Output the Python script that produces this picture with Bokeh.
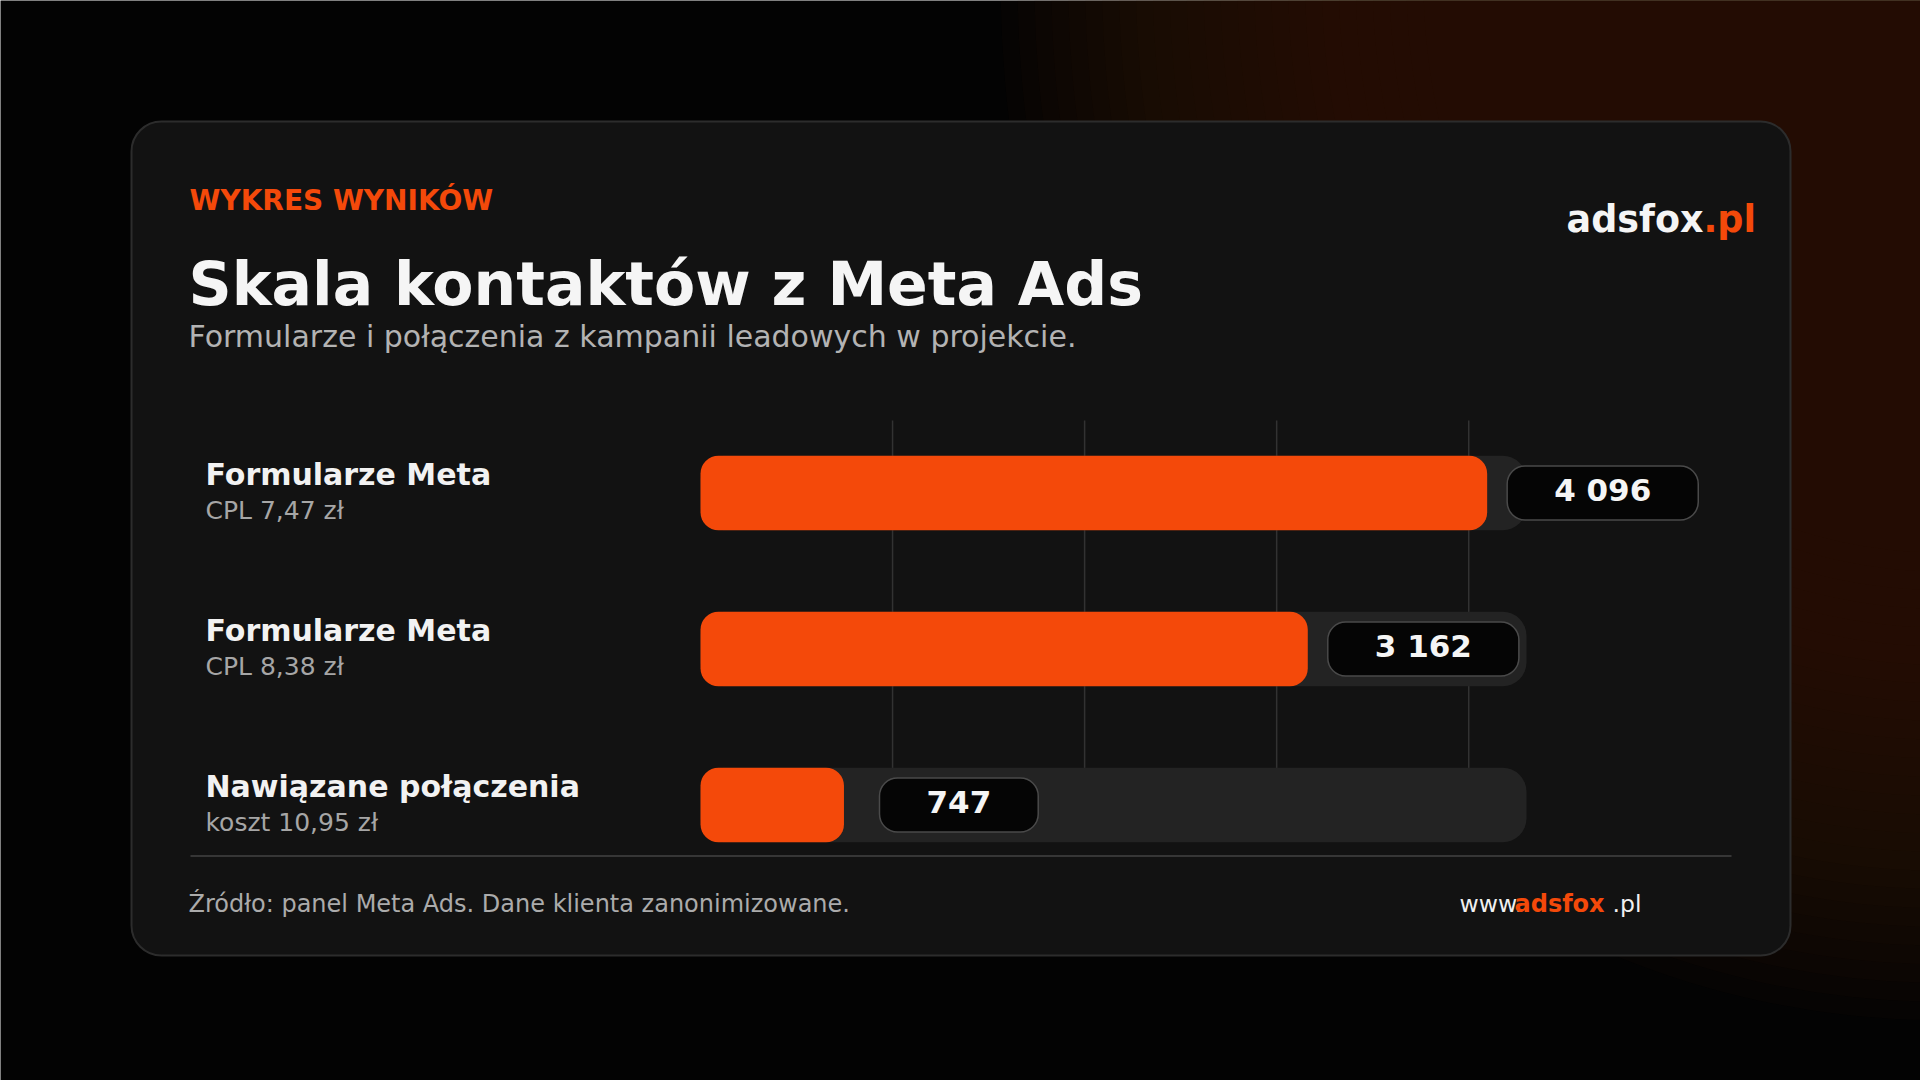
from bokeh.plotting import figure
from bokeh.models import Range1d
from bokeh.core.properties import value
from bokeh.embed import file_html
from bokeh.resources import INLINE

# data
labels = ["Formularze Meta", "Formularze Meta", "Nawiązane połączenia"]
sublabels = ["CPL 7,47 zł", "CPL 8,38 zł", "koszt 10,95 zł"]
values = [4096, 3162, 747]
value_labels = ["4 096", "3 162", "747"]
grid_ticks = [1000, 2000, 3000, 4000]

ORANGE = "#f4490a"
FONT = value("DejaVu Sans")

W, H = 1920, 1080
vmax = max(values) * 1.05
bar_x0, bar_w = 700, 826          # track position in page pixels
px = vmax / bar_w                 # value units per pixel
row0, row_step, bar_h = 492.5, 156, 74.5
BASE_SHIFT = 0.39                 # svg alphabetic baseline lands lower, pull it back

p = figure(width=W, height=H, output_backend="svg", toolbar_location=None,
           x_range=Range1d(0, W), y_range=Range1d(H, 0),
           min_border=0, background_fill_color="#030303",
           border_fill_color="#030303")
p.axis.visible = False
p.grid.visible = False
p.outline_line_color = None
p.extra_x_ranges = {"val": Range1d(-bar_x0 * px, (W - bar_x0) * px)}


def label(x, y, text, size, color, bold=False, **kw):
    ys = [v - BASE_SHIFT * size for v in y]
    p.text(x=x, y=ys, text=text, text_font=FONT, text_font_size=f"{size}px",
           text_font_style="bold" if bold else "normal", text_color=color,
           text_baseline="alphabetic", **kw)


# warm glow in the top-right corner
n = 26
for i in range(n):
    f = 1.0 - 0.45 * i / (n - 1)
    p.ellipse(x=1940, y=-20, width=2 * 940 * f, height=2 * 1040 * f,
              fill_color="#2a1208", fill_alpha=0.085, line_color=None)

# card
p.quad(left=131, right=1790, top=121, bottom=955, fill_color="#121212",
       line_color="#2c2c2c", line_width=2, border_radius=30)

# header
label([189], [211], ["WYKRES WYNIKÓW"], 28, ORANGE, bold=True)
label([188], [307], ["Skala kontaktów z Meta Ads"], 60, "#f5f5f5", bold=True)
label([188], [348], ["Formularze i połączenia z kampanii leadowych w projekcie."], 30, "#b3b3b3")
label([1703], [233], ["adsfox"], 36.5, "#f5f5f5", bold=True, text_align="right")
label([1703], [233], [".pl"], 36.5, ORANGE, bold=True)

rows = [row0 + i * row_step for i in range(len(values))]

# grid lines
p.segment(x0=grid_ticks, x1=grid_ticks, y0=420, y1=rows[-1],
          line_color="#323232", line_width=1.5, x_range_name="val")

# tracks and bars
p.hbar(y=rows, height=bar_h, left=0, right=vmax, fill_color="#232323",
       line_color=None, border_radius=24, x_range_name="val")
p.hbar(y=rows, height=bar_h, left=0, right=values, fill_color=ORANGE,
       line_color=None, border_radius=18, x_range_name="val")

# value badges
fs = 31
b_left, b_right, b_mid = [], [], []
for v, t in zip(values, value_labels):
    tw = sum(0.348 if c == " " else 0.696 for c in t) * fs
    bw = tw + 94
    left = max(v + 20 * px, 179 * px)
    b_left.append(left)
    b_right.append(left + bw * px)
    b_mid.append(left + bw * px / 2)
p.quad(left=b_left, right=b_right, top=[r - 27 for r in rows], bottom=[r + 27 for r in rows],
       fill_color="#050505", line_color="#4a4a4a", line_width=1.5, border_radius=18,
       x_range_name="val")
label(b_mid, [r + 9 for r in rows], value_labels, fs, "#f5f5f5", bold=True,
      text_align="center", x_range_name="val")

# row labels
label([205] * 3, [r - 7 for r in rows], labels, 30, "#f2f2f2", bold=True)
label([205] * 3, [r + 27 for r in rows], sublabels, 25, "#a6a6a6")

# footer
p.segment(x0=[190], x1=[1731], y0=[855.5], y1=[855.5], line_color="#363636", line_width=2)
label([188], [913], ["Źródło: panel Meta Ads. Dane klienta zanonimizowane."], 24, "#ababab")
label([1459], [913], ["www."], 23.5, "#f0f0f0")
label([1514], [913], ["adsfox"], 24, ORANGE, bold=True)
label([1612], [913], [".pl"], 23.5, "#f0f0f0")

open("out.html", "w").write(file_html(p, INLINE, "Skala kontaktów z Meta Ads"))
